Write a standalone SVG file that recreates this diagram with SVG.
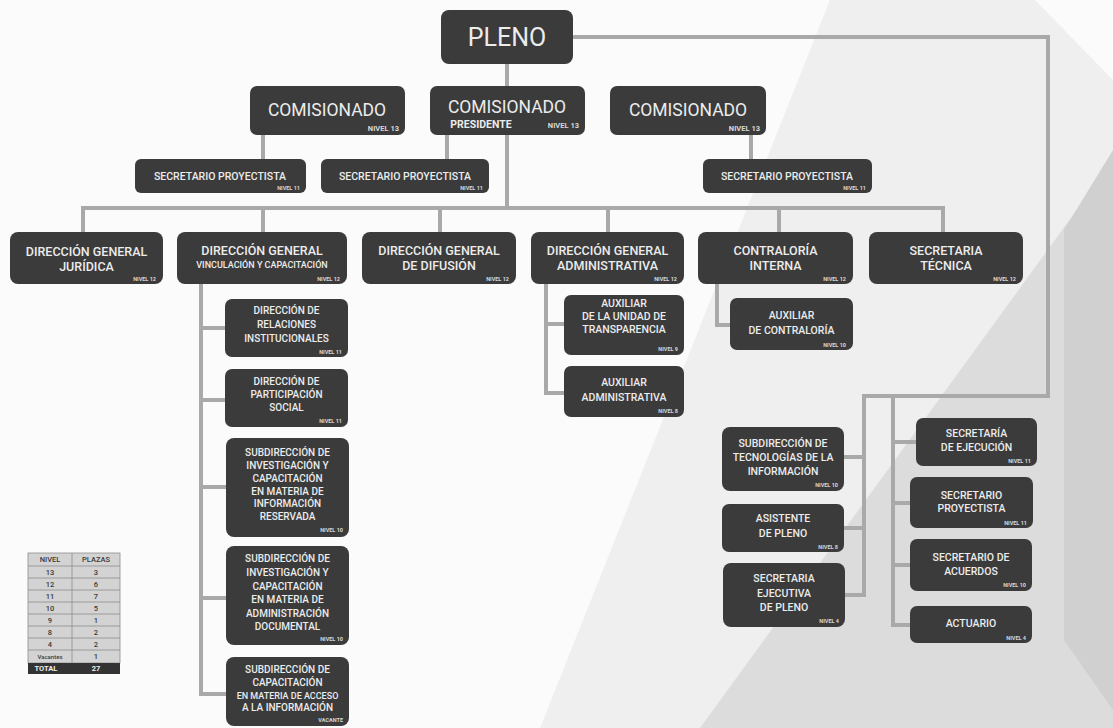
<svg xmlns="http://www.w3.org/2000/svg" width="1113" height="728" viewBox="0 0 1113 728">
<style>
.bg{fill:#fbfbfb}
.box{fill:#3b3b3b}
.c{stroke:#a9a9a9;stroke-width:4;fill:none;stroke-linecap:square}
text{font-family:Roboto,"Liberation Sans",sans-serif;fill:#ececec;font-weight:500;text-anchor:middle}
.t24{font-size:25px;font-weight:400}
.t17{font-size:17.5px;font-weight:400}
.t12{font-size:12.5px}
.t11{font-size:10.5px}
.t10{font-size:10px}
.t9{font-size:9px}
.lv{font-size:5.5px;text-anchor:end;font-weight:700;fill:#d8d8d8}
.lv7{font-size:7.5px;text-anchor:end;font-weight:700;fill:#d8d8d8}
.tb{font-size:7.5px;fill:#3a3a3a;font-weight:500}
.tbw{font-size:7.5px;fill:#f0f0f0;font-weight:700}
.cell{fill:#d3d3d3;stroke:#8e8e8e;stroke-width:0.8}
</style>
<rect class="bg" x="0" y="0" width="1113" height="728"/>
<g id="fondo">
<polygon points="830,0 1035,0 1113,80 1113,728 540,728" fill="#efefef"/>
<polygon points="1113,160 1113,728 700,728" fill="#dcdcdc"/>
<polygon points="1113,150 1113,710 1064,640 1064,230" fill="#d0d0d0"/>
</g>
<g id="conectores">
<path class="c" d="M507 64 V208"/>
<path class="c" d="M573 37 H1048 V396 H864 V595"/>
<path class="c" d="M893 396 V625"/>
<path class="c" d="M893 442 H916 M893 503 H910 M893 565 H910 M893 625 H910"/>
<path class="c" d="M844 457 H864 M844 528 H864 M845 595 H864"/>
<path class="c" d="M263 135 V159 M447 135 V159 M751 135 V159"/>
<path class="c" d="M83 232 V208 H943 V232 M263 208 V232 M440 208 V232 M608 208 V232 M779 208 V232"/>
<path class="c" d="M201 284 V694 H225 M201 328 H225 M201 400 H225 M201 487 H225 M201 598 H225"/>
<path class="c" d="M546 284 V393 H564 M546 324 H564"/>
<path class="c" d="M717 284 V325 H730"/>
</g>
<g id="pleno"><rect class="box" x="441" y="10" width="132" height="54" rx="8"/><text class="t24" x="507" y="46">PLENO</text></g>
<g id="comisionado-1"><rect class="box" x="250" y="86" width="155" height="49" rx="7"/><text class="t17" x="327" y="116">COMISIONADO</text><text class="lv7" x="399" y="131">NIVEL 13</text></g>
<g id="comisionado-presidente"><rect class="box" x="430" y="86" width="155" height="49" rx="7"/><text class="t17" x="507" y="113">COMISIONADO</text><text class="t11" x="481" y="128" style="font-weight:700">PRESIDENTE</text><text class="lv7" x="579" y="128">NIVEL 13</text></g>
<g id="comisionado-2"><rect class="box" x="610" y="86" width="156" height="49" rx="7"/><text class="t17" x="688" y="116">COMISIONADO</text><text class="lv7" x="760" y="131">NIVEL 13</text></g>
<g id="sp-1"><rect class="box" x="135" y="159" width="171" height="34" rx="6"/><text class="t11" x="220" y="180">SECRETARIO PROYECTISTA</text><text class="lv" x="300" y="190">NIVEL 11</text></g>
<g id="sp-2"><rect class="box" x="321" y="159" width="168" height="34" rx="6"/><text class="t11" x="405" y="180">SECRETARIO PROYECTISTA</text><text class="lv" x="483" y="190">NIVEL 11</text></g>
<g id="sp-3"><rect class="box" x="703" y="159" width="169" height="34" rx="6"/><text class="t11" x="787" y="180">SECRETARIO PROYECTISTA</text><text class="lv" x="866" y="190">NIVEL 11</text></g>
<g id="dg-juridica"><rect class="box" x="10" y="232" width="153" height="52" rx="8"/><text class="t12" x="86.5" y="256">DIRECCIÓN GENERAL</text><text class="t12" x="86.5" y="271">JURÍDICA</text><text class="lv" x="156" y="281">NIVEL 12</text></g>
<g id="dg-vinculacion"><rect class="box" x="177" y="232" width="170" height="52" rx="8"/><text class="t12" x="262" y="255">DIRECCIÓN GENERAL</text><text class="t9" x="262" y="268">VINCULACIÓN Y CAPACITACIÓN</text><text class="lv" x="340" y="281">NIVEL 12</text></g>
<g id="dg-difusion"><rect class="box" x="362" y="232" width="154" height="52" rx="8"/><text class="t12" x="439" y="255">DIRECCIÓN GENERAL</text><text class="t12" x="439" y="270">DE DIFUSIÓN</text><text class="lv" x="509" y="281">NIVEL 12</text></g>
<g id="dg-administrativa"><rect class="box" x="531" y="232" width="153" height="52" rx="8"/><text class="t12" x="607.5" y="255">DIRECCIÓN GENERAL</text><text class="t12" x="607.5" y="270">ADMINISTRATIVA</text><text class="lv" x="677" y="281">NIVEL 12</text></g>
<g id="contraloria"><rect class="box" x="698" y="232" width="155" height="52" rx="8"/><text class="t12" x="775.5" y="255">CONTRALORÍA</text><text class="t12" x="775.5" y="270">INTERNA</text><text class="lv" x="846" y="281">NIVEL 12</text></g>
<g id="sec-tecnica"><rect class="box" x="869" y="232" width="154" height="52" rx="8"/><text class="t12" x="946" y="255">SECRETARIA</text><text class="t12" x="946" y="270">TÉCNICA</text><text class="lv" x="1016" y="281">NIVEL 12</text></g>
<g id="dir-relaciones"><rect class="box" x="225" y="299" width="123" height="58" rx="7"/><text class="t10" x="286.5" y="314">DIRECCIÓN DE</text><text class="t10" x="286.5" y="328">RELACIONES</text><text class="t10" x="286.5" y="342">INSTITUCIONALES</text><text class="lv" x="342" y="354">NIVEL 11</text></g>
<g id="dir-participacion"><rect class="box" x="225" y="369" width="123" height="58" rx="7"/><text class="t10" x="286.5" y="385">DIRECCIÓN DE</text><text class="t10" x="286.5" y="398">PARTICIPACIÓN</text><text class="t10" x="286.5" y="411">SOCIAL</text><text class="lv" x="342" y="423">NIVEL 11</text></g>
<g id="sub-reservada"><rect class="box" x="226" y="438" width="123" height="99" rx="8"/><text class="t10" x="287.5" y="456">SUBDIRECCIÓN DE</text><text class="t10" x="287.5" y="469">INVESTIGACIÓN Y</text><text class="t10" x="287.5" y="482">CAPACITACIÓN</text><text class="t10" x="287.5" y="495">EN MATERIA DE</text><text class="t10" x="287.5" y="507">INFORMACIÓN</text><text class="t10" x="287.5" y="520">RESERVADA</text><text class="lv" x="343" y="532">NIVEL 10</text></g>
<g id="sub-documental"><rect class="box" x="226" y="546" width="123" height="99" rx="8"/><text class="t10" x="287.5" y="562">SUBDIRECCIÓN DE</text><text class="t10" x="287.5" y="576">INVESTIGACIÓN Y</text><text class="t10" x="287.5" y="590">CAPACITACIÓN</text><text class="t10" x="287.5" y="603">EN MATERIA DE</text><text class="t10" x="287.5" y="617">ADMINISTRACIÓN</text><text class="t10" x="287.5" y="630">DOCUMENTAL</text><text class="lv" x="343" y="641">NIVEL 10</text></g>
<g id="sub-acceso"><rect class="box" x="226" y="657" width="123" height="69" rx="8"/><text class="t10" x="287.5" y="673">SUBDIRECCIÓN DE</text><text class="t10" x="287.5" y="686">CAPACITACIÓN</text><text class="t9" x="287.5" y="699">EN MATERIA DE ACCESO</text><text class="t10" x="287.5" y="711">A LA INFORMACIÓN</text><text class="lv" x="343" y="722">VACANTE</text></g>
<g id="aux-transparencia"><rect class="box" x="564" y="295" width="120" height="60" rx="7"/><text class="t11" x="624" y="307">AUXILIAR</text><text class="t11" x="624" y="320">DE LA UNIDAD DE</text><text class="t11" x="624" y="333">TRANSPARENCIA</text><text class="lv" x="678" y="351">NIVEL 9</text></g>
<g id="aux-administrativa"><rect class="box" x="564" y="366" width="120" height="51" rx="7"/><text class="t11" x="624" y="386">AUXILIAR</text><text class="t11" x="624" y="401">ADMINISTRATIVA</text><text class="lv" x="678" y="413">NIVEL 8</text></g>
<g id="aux-contraloria"><rect class="box" x="730" y="298" width="123" height="52" rx="7"/><text class="t11" x="791.5" y="319">AUXILIAR</text><text class="t11" x="791.5" y="334">DE CONTRALORÍA</text><text class="lv" x="846" y="347">NIVEL 10</text></g>
<g id="sub-tecnologias"><rect class="box" x="722" y="427" width="122" height="64" rx="8"/><text class="t11" x="783" y="447">SUBDIRECCIÓN DE</text><text class="t11" x="783" y="461">TECNOLOGÍAS DE LA</text><text class="t11" x="783" y="475">INFORMACIÓN</text><text class="lv" x="838" y="487">NIVEL 10</text></g>
<g id="asistente-pleno"><rect class="box" x="722" y="504" width="122" height="48" rx="7"/><text class="t11" x="783" y="522">ASISTENTE</text><text class="t11" x="783" y="537">DE PLENO</text><text class="lv" x="838" y="549">NIVEL 8</text></g>
<g id="sec-ejecutiva"><rect class="box" x="723" y="563" width="122" height="64" rx="8"/><text class="t11" x="784" y="582">SECRETARIA</text><text class="t11" x="784" y="597">EJECUTIVA</text><text class="t11" x="784" y="611">DE PLENO</text><text class="lv" x="839" y="623">NIVEL 4</text></g>
<g id="sec-ejecucion"><rect class="box" x="916" y="418" width="121" height="48" rx="7"/><text class="t11" x="976.5" y="437">SECRETARÍA</text><text class="t11" x="976.5" y="451">DE EJECUCIÓN</text><text class="lv" x="1031" y="463">NIVEL 11</text></g>
<g id="sec-proyectista-pleno"><rect class="box" x="910" y="477" width="123" height="51" rx="7"/><text class="t11" x="971.5" y="499">SECRETARIO</text><text class="t11" x="971.5" y="512">PROYECTISTA</text><text class="lv" x="1027" y="525">NIVEL 11</text></g>
<g id="sec-acuerdos"><rect class="box" x="910" y="539" width="122" height="52" rx="7"/><text class="t11" x="971" y="561">SECRETARIO DE</text><text class="t11" x="971" y="575">ACUERDOS</text><text class="lv" x="1026" y="587">NIVEL 10</text></g>
<g id="actuario"><rect class="box" x="910" y="606" width="122" height="37" rx="7"/><text class="t11" x="971" y="627">ACTUARIO</text><text class="lv" x="1026" y="640">NIVEL 4</text></g>
<g id="tabla">
<rect class="cell" x="28" y="553" width="92" height="110"/>
<path d="M72 553 V663 M28 566 H120 M28 578 H120 M28 590 H120 M28 602 H120 M28 614 H120 M28 626 H120 M28 638 H120 M28 650 H120" stroke="#8e8e8e" stroke-width="0.8" fill="none"/>
<rect x="28" y="663" width="92" height="11" fill="#333"/>
<text class="tb" x="50" y="562">NIVEL</text><text class="tb" x="96" y="562">PLAZAS</text>
<text class="tb" x="50" y="575">13</text><text class="tb" x="96" y="575">3</text>
<text class="tb" x="50" y="587">12</text><text class="tb" x="96" y="587">6</text>
<text class="tb" x="50" y="599">11</text><text class="tb" x="96" y="599">7</text>
<text class="tb" x="50" y="611">10</text><text class="tb" x="96" y="611">5</text>
<text class="tb" x="50" y="623">9</text><text class="tb" x="96" y="623">1</text>
<text class="tb" x="50" y="635">8</text><text class="tb" x="96" y="635">2</text>
<text class="tb" x="50" y="647">4</text><text class="tb" x="96" y="647">2</text>
<text class="tb" x="50" y="659" style="font-size:6px">Vacantes</text><text class="tb" x="96" y="659">1</text>
<text class="tbw" x="46" y="671">TOTAL</text><text class="tbw" x="96" y="671">27</text>
</g>
</svg>
